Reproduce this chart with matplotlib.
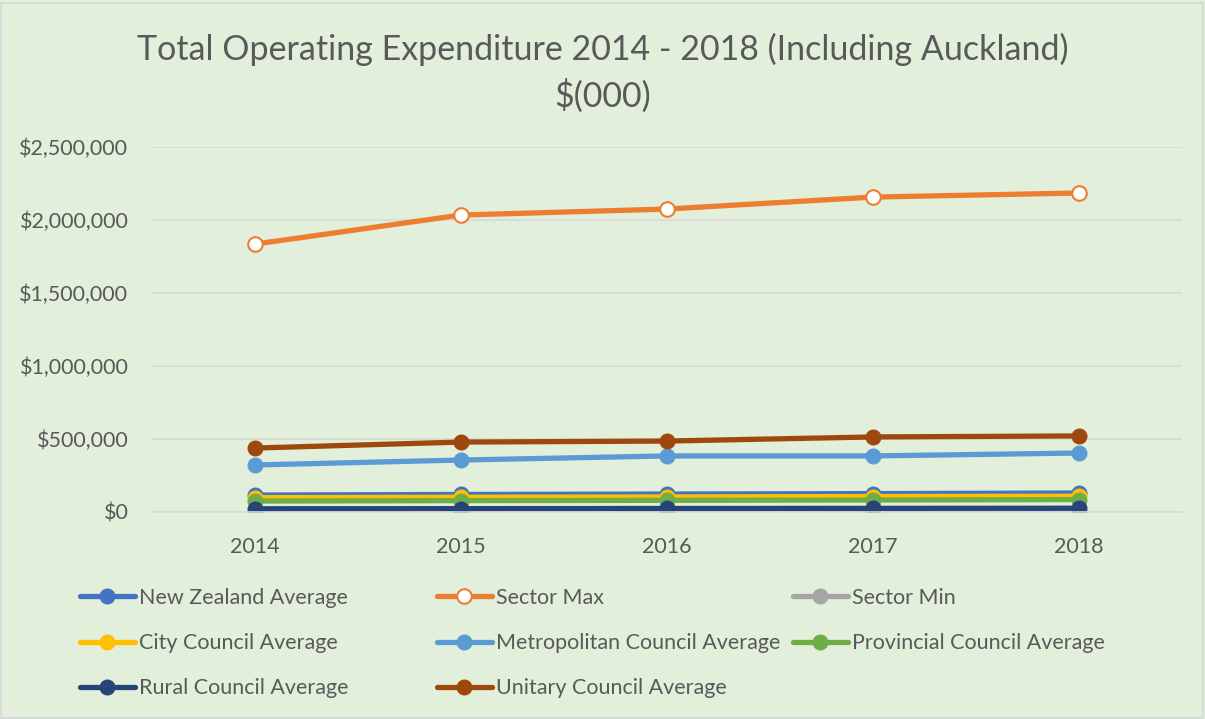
import matplotlib
matplotlib.use("Agg")
import matplotlib.pyplot as plt
from matplotlib.patches import Rectangle
from matplotlib.ticker import FuncFormatter

plt.rcParams['font.family'] = ['Lato', 'DejaVu Sans']

years = ["2014", "2015", "2016", "2017", "2018"]
nz_avg = [116000, 120000, 123000, 126000, 130000]
sector_max = [1835000, 2034000, 2075000, 2157000, 2185000]
sector_min = [3000, 3000, 3000, 3000, 3000]
city_avg = [98000, 101000, 103000, 106000, 108000]
metro_avg = [322000, 356000, 384000, 384000, 404000]
prov_avg = [75000, 78000, 80000, 82000, 85000]
rural_avg = [22000, 23000, 24000, 25000, 26000]
unitary_avg = [438000, 479000, 486000, 514000, 521000]

series = [
    ("New Zealand Average", nz_avg, "#4472C4", False),
    ("Sector Max", sector_max, "#ED7D31", True),
    ("Sector Min", sector_min, "#A5A5A5", False),
    ("City Council Average", city_avg, "#FFC000", False),
    ("Metropolitan Council Average", metro_avg, "#5B9BD5", False),
    ("Provincial Council Average", prov_avg, "#70AD47", False),
    ("Rural Council Average", rural_avg, "#264478", False),
    ("Unitary Council Average", unitary_avg, "#9E480E", False),
]

bg = "#E2EFDA"
txt = "#595959"
fig = plt.figure(figsize=(12.05, 7.19), dpi=100, facecolor=bg)
ax = fig.add_axes([152/1205, 1 - 512/719, (1182-152)/1205, (512-147)/719])
ax.set_facecolor(bg)

x = list(range(len(years)))
handles = []
for name, vals, col, hollow in series:
    ln, = ax.plot(x, vals, color=col, lw=3.8, marker='o', markersize=10.5,
                  markerfacecolor='white' if hollow else col,
                  markeredgecolor=col, markeredgewidth=1.5 if hollow else 1,
                  solid_capstyle='round', label=name)
    handles.append(ln)

ax.set_xlim(-0.5, 4.5)
ax.set_ylim(0, 2500000)
ax.set_yticks(range(0, 2500001, 500000))
ax.yaxis.set_major_formatter(FuncFormatter(lambda v, p: "${:,.0f}".format(v)))
ax.set_xticks(x)
ax.set_xticklabels(years)
ax.grid(axis='y', color='#D9D9D9', lw=1.2)
ax.set_axisbelow(True)
for s in ['top', 'right', 'left']:
    ax.spines[s].set_visible(False)
ax.spines['bottom'].set_color('#D9D9D9')
ax.spines['bottom'].set_linewidth(1.2)
ax.tick_params(length=0, labelsize=15.5, colors=txt)
ax.tick_params(axis='x', pad=18)
ax.tick_params(axis='y', pad=17)

fig.text(0.5, 1 - 49/719, "Total Operating Expenditure 2014 - 2018 (Including Auckland)",
         ha='center', va='center', fontsize=24.5, color=txt)
fig.text(0.5, 1 - 96/719, "$(000)", ha='center', va='center', fontsize=24.5, color=txt)

cols = [[0, 3, 6], [1, 4, 7], [2, 5]]
xs = [80, 437, 793]
for c, xp in zip(cols, xs):
    leg = fig.legend([handles[i] for i in c], [series[i][0] for i in c],
                     loc='upper left', bbox_to_anchor=(xp/1205, 1 - 588/719),
                     frameon=False, fontsize=15.5, labelcolor=txt,
                     handlelength=2.55, handletextpad=0.2, labelspacing=1.17,
                     borderaxespad=0, borderpad=0)

fig.patches.append(Rectangle((0.001, 0.001), 0.997, 0.995, transform=fig.transFigure,
                             fill=False, edgecolor='#D9D9D9', lw=1.5))

fig.savefig("out.png", dpi=100, facecolor=bg)
